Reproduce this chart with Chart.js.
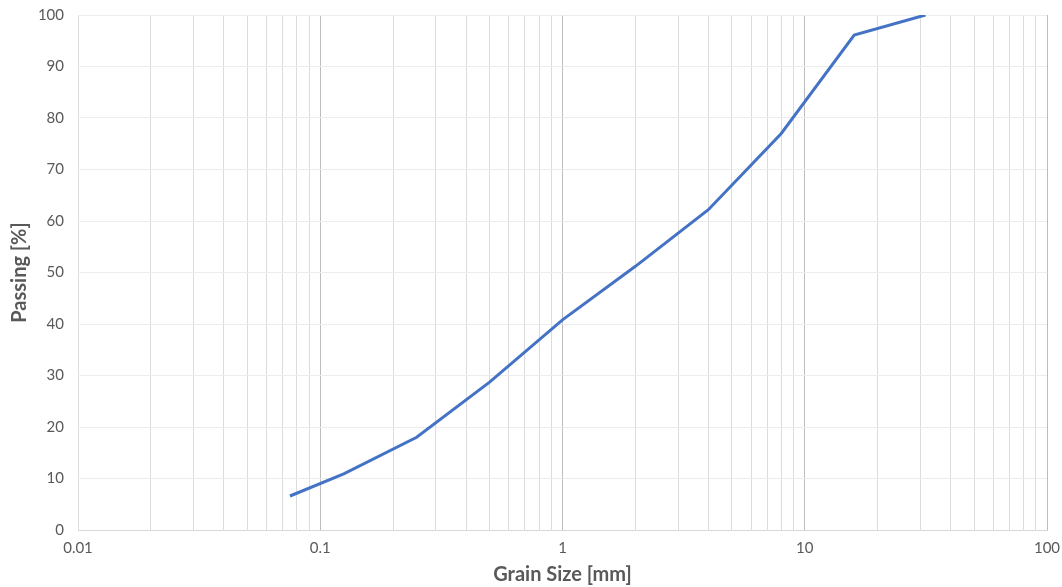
<!DOCTYPE html>
<html>
<head>
<meta charset="utf-8">
<script src="https://cdn.jsdelivr.net/npm/chart.js@4/dist/chart.umd.min.js"></script>
<style>
  html, body { margin: 0; padding: 0; background: #fff; }
  #wrap { width: 1062px; height: 587px; position: relative; }
</style>
</head>
<body>
<div id="wrap"><canvas id="c"></canvas></div>
<script>
// Sieve sizes (mm) and cumulative percent passing
const grainSize = [0.075, 0.125, 0.25, 0.5, 1, 2, 4, 8, 16, 31.5];
const passing   = [6.6, 10.9, 18.0, 28.7, 40.8, 51.2, 62.2, 77.0, 96.1, 100];

// Labelled decades on the log axis
const xTickValues = [0.01, 0.1, 1, 10, 100];
const xTickLabels = ['0.01', '0.1', '1', '10', '100'];

// Minor grid multiples inside each decade
const minorMultiples = [1, 2, 3, 4, 5, 6, 7, 8, 9];

const yTicks = [0, 10, 20, 30, 40, 50, 60, 70, 80, 90, 100];

const gridValues = [];
for (let e = -2; e < 2; e++) {
  for (const m of minorMultiples) gridValues.push(+(m * Math.pow(10, e)).toPrecision(3));
}
gridValues.push(100);

function isDecade(v) {
  return xTickValues.some(t => Math.abs(t - v) / t < 1e-6);
}

const textColor = '#595959';
const font = 'Lato, "Open Sans", sans-serif';

new Chart(document.getElementById('c'), {
  type: 'line',
  data: {
    datasets: [{
      data: grainSize.map((x, i) => ({ x: x, y: passing[i] })),
      borderColor: '#4472C4',
      borderWidth: 3,
      pointRadius: 0,
      tension: 0,
      fill: false
    }]
  },
  options: {
    responsive: true,
    maintainAspectRatio: false,
    animation: false,
    layout: { padding: { top: 15, right: 15, left: 0, bottom: 0 } },
    plugins: { legend: { display: false }, tooltip: { enabled: false } },
    scales: {
      x: {
        type: 'logarithmic',
        min: 0.01,
        max: 100,
        afterBuildTicks: s => { s.ticks = gridValues.map(v => ({ value: v })); },
        afterFit: s => { s.height = 57; s.paddingLeft = 0; s.paddingRight = 0; },
        border: { display: true, color: '#d9d9d9', width: 1 },
        grid: {
          drawTicks: false,
          lineWidth: 1,
          color: ctx => {
            const v = ctx.tick ? ctx.tick.value : 0;
            if (Math.abs(v - 0.01) < 1e-9) return '#dddddd';
            return isDecade(v) ? '#bdbdbd' : '#dcdcdc';
          }
        },
        ticks: {
          autoSkip: false,
          maxRotation: 0,
          padding: 9,
          color: textColor,
          font: { family: font, size: 15 },
          callback: v => {
            const i = xTickValues.findIndex(t => Math.abs(t - v) / t < 1e-6);
            return i >= 0 ? xTickLabels[i] : '';
          }
        },
        title: {
          display: true,
          text: 'Grain Size [mm]',
          color: textColor,
          font: { family: font, size: 20, weight: 'bold' },
          padding: { top: 0, bottom: 0 }
        }
      },
      y: {
        min: 0,
        max: 100,
        afterBuildTicks: s => { s.ticks = yTicks.map(v => ({ value: v })); },
        afterFit: s => { s.width = 78; s.paddingTop = 0; s.paddingBottom = 0; },
        border: { display: false },
        grid: { drawTicks: false, color: '#ececec', lineWidth: 1 },
        ticks: {
          padding: 14,
          color: textColor,
          font: { family: font, size: 15 }
        },
        title: {
          display: true,
          text: 'Passing [%]',
          color: textColor,
          font: { family: font, size: 20, weight: 'bold' },
          padding: { top: 8, bottom: 0 }
        }
      }
    }
  }
});
</script>
</body>
</html>
